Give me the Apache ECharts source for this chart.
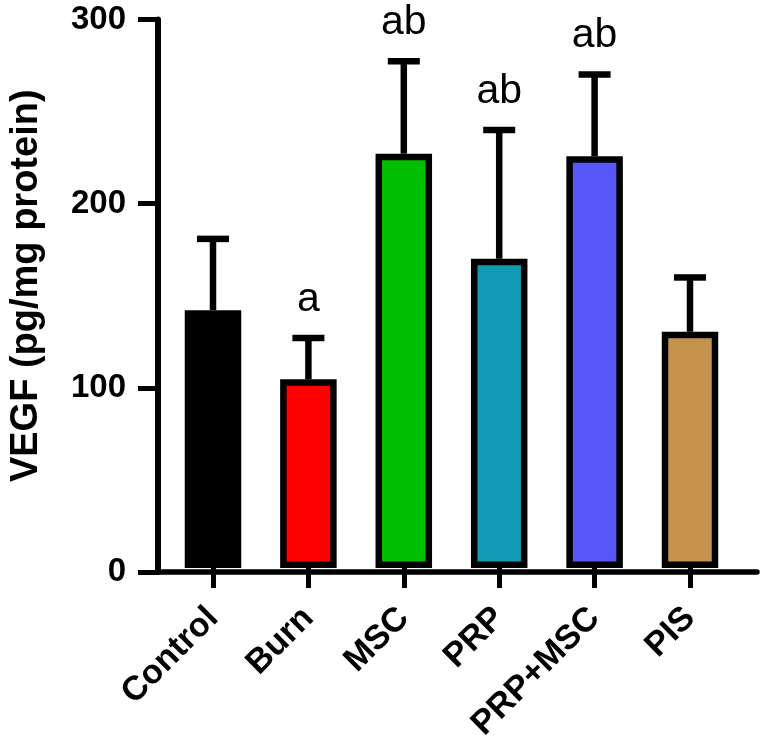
<!DOCTYPE html>
<html>
<head>
<meta charset="utf-8">
<script src="https://cdn.jsdelivr.net/npm/echarts@6/dist/echarts.min.js"></script>
<style>
html,body{margin:0;padding:0;background:#fff;}
#chart{width:762px;height:744px;}
</style>
</head>
<body>
<div id="chart"></div>
<script>
var categories = ['Control', 'Burn', 'MSC', 'PRP', 'PRP+MSC', 'PIS'];
var means = [141, 103.2, 226.6, 169.2, 225.2, 129.2];
var sdUpper = [39, 22.6, 50.5, 70.3, 44.7, 29.7];
var letters = ['', 'a', 'ab', 'ab', 'ab', ''];
var barColors = ['#000000', '#FF0000', '#00BF00', '#1299B5', '#5858FA', '#C6934F'];
var yTicks = [0, 100, 200, 300];
var yTitle = 'VEGF (pg/mg protein)';

var FONT = "'Liberation Sans', Arial, Helvetica, sans-serif";
var chart = echarts.init(document.getElementById('chart'), null, {renderer: 'canvas'});

var errData = categories.map(function (c, i) { return [i, means[i], means[i] + sdUpper[i]]; });

var option = {
  backgroundColor: '#ffffff',
  animation: false,
  grid: [
    {left: 149.7, right: 5, top: 19.5, bottom: 172, containLabel: false},
    {left: 165.3, right: 24.3, top: 19.5, bottom: 172, containLabel: false}
  ],
  xAxis: [
    {type: 'value', gridIndex: 0, min: 0, max: 1, show: true,
     axisLine: {show: true, lineStyle: {color: '#000', width: 5.5}},
     axisTick: {show: false}, axisLabel: {show: false}, splitLine: {show: false}},
    {type: 'category', gridIndex: 1, data: categories,
     axisLine: {show: false},
     axisTick: {show: true, alignWithLabel: true, length: 20, lineStyle: {color: '#000', width: 5}},
     axisLabel: {rotate: 45, margin: 45, color: '#000', fontFamily: FONT, fontWeight: 'bold', fontSize: 34, interval: 0},
     splitLine: {show: false}}
  ],
  yAxis: [
    {type: 'value', gridIndex: 0, min: yTicks[0], max: yTicks[yTicks.length - 1], interval: 100,
     axisLine: {show: true, lineStyle: {color: '#000', width: 6}},
     axisTick: {show: true, length: 20, lineStyle: {color: '#000', width: 5}},
     axisLabel: {margin: 32, color: '#000', fontFamily: FONT, fontWeight: 'bold', fontSize: 33},
     splitLine: {show: false},
     name: yTitle, nameLocation: 'middle', nameGap: 112,
     nameTextStyle: {color: '#000', fontFamily: FONT, fontWeight: 'bold', fontSize: 38, padding: [0, 0, 0, 20]}},
    {type: 'value', gridIndex: 1, min: 0, max: 300, show: false}
  ],
  series: [
    {type: 'bar', xAxisIndex: 1, yAxisIndex: 1, barWidth: 56.5,
     data: means.map(function (v, i) {
       return {value: v, itemStyle: {color: barColors[i], borderColor: '#000', borderWidth: 6.5}};
     }),
     z: 2},
    {type: 'custom', xAxisIndex: 1, yAxisIndex: 1, data: errData, z: 1,
     renderItem: function (params, api) {
       var base = api.coord([api.value(0), api.value(1)]);
       var top = api.coord([api.value(0), api.value(2)]);
       var x = base[0];
       var txt = letters[api.value(0)];
       var children = [
         {type: 'line', shape: {x1: x, y1: base[1], x2: x, y2: top[1]}, style: {stroke: '#000', lineWidth: 6.5}},
         {type: 'line', shape: {x1: x - 16, y1: top[1], x2: x + 16, y2: top[1]}, style: {stroke: '#000', lineWidth: 6.5}}
       ];
       if (txt) {
         children.push({type: 'text', x: x, y: top[1] - 18,
           style: {text: txt, fill: '#000', font: 'normal 41px ' + FONT, textAlign: 'center', textVerticalAlign: 'bottom'}});
       }
       return {type: 'group', children: children};
     }}
  ]
};
chart.setOption(option);
</script>
</body>
</html>
